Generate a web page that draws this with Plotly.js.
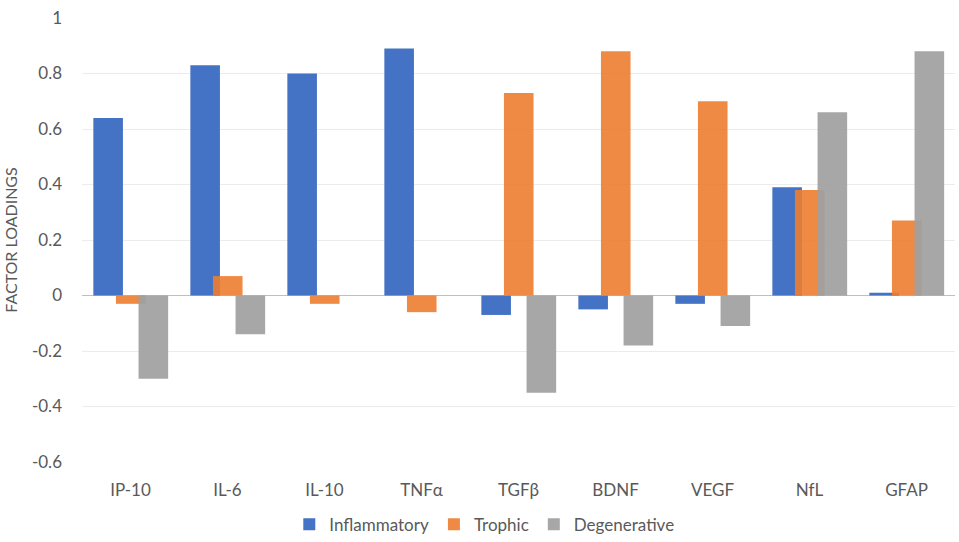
<!DOCTYPE html>
<html>
<head>
<meta charset="utf-8">
<script src="https://cdn.plot.ly/plotly-3.0.1.min.js"></script>
<style>html,body{margin:0;padding:0;background:#fff;}#chart{width:959px;height:542px;}</style>
</head>
<body>
<div id="chart"></div>
<script>
const categories = ["IP-10", "IL-6", "IL-10", "TNFα", "TGFβ", "BDNF", "VEGF", "NfL", "GFAP"];
const inflammatory = [0.64, 0.83, 0.80, 0.89, -0.07, -0.05, -0.03, 0.39, 0.01];
const trophic = [-0.03, 0.07, -0.03, -0.06, 0.73, 0.88, 0.70, 0.38, 0.27];
const degenerative = [-0.30, -0.14, 0, 0, -0.35, -0.18, -0.11, 0.66, 0.88];
const tickVals = [1, 0.8, 0.6, 0.4, 0.2, 0, -0.2, -0.4, -0.6];
const tickText = ["1", "0.8", "0.6", "0.4", "0.2", "0", "-0.2", "-0.4", "-0.6"];

const W = 0.305;
function mk(name, y, color, off) {
  return {type: "bar", name: name, x: categories, y: y, width: W, offset: off,
    marker: {color: color, line: {width: 0}}};
}
const data = [
  mk("Inflammatory", inflammatory, "rgba(68,114,196,1)", -0.383),
  mk("Trophic", trophic, "rgba(237,125,49,0.9)", -0.15),
  mk("Degenerative", degenerative, "rgba(160,160,160,0.92)", 0.083)
];
const layout = {
  width: 959, height: 542,
  margin: {l: 82, r: 4, t: 18, b: 80},
  paper_bgcolor: "#fff", plot_bgcolor: "#fff",
  font: {family: "Lato, 'Open Sans', sans-serif", size: 17, color: "#595959"},
  showlegend: true,
  barmode: "overlay",
  xaxis: {type: "category", range: [-0.5, 8.5], showgrid: false, showline: false,
    zeroline: false, ticks: "", tickfont: {size: 17, color: "#595959"}, ticklabelstandoff: 16},
  yaxis: {range: [-0.6, 1], tickvals: tickVals, ticktext: tickText,
    showgrid: true, gridcolor: "#ececec", gridwidth: 1,
    zeroline: true, zerolinecolor: "#bfbfbf", zerolinewidth: 1.5,
    showline: false, ticks: "", ticklabelstandoff: 19,
    tickfont: {size: 17, color: "#595959"},
    title: {text: "FACTOR LOADINGS", font: {size: 16, color: "#595959"}, standoff: 10}},
  legend: {orientation: "h", xref: "container", yref: "container",
    xanchor: "center", x: 0.505, yanchor: "middle", y: 0.032,
    font: {size: 17, color: "#595959"}, itemwidth: 30, traceorder: "normal"}
};
Plotly.newPlot("chart", data, layout, {displayModeBar: false, staticPlot: true});
</script>
</body>
</html>
